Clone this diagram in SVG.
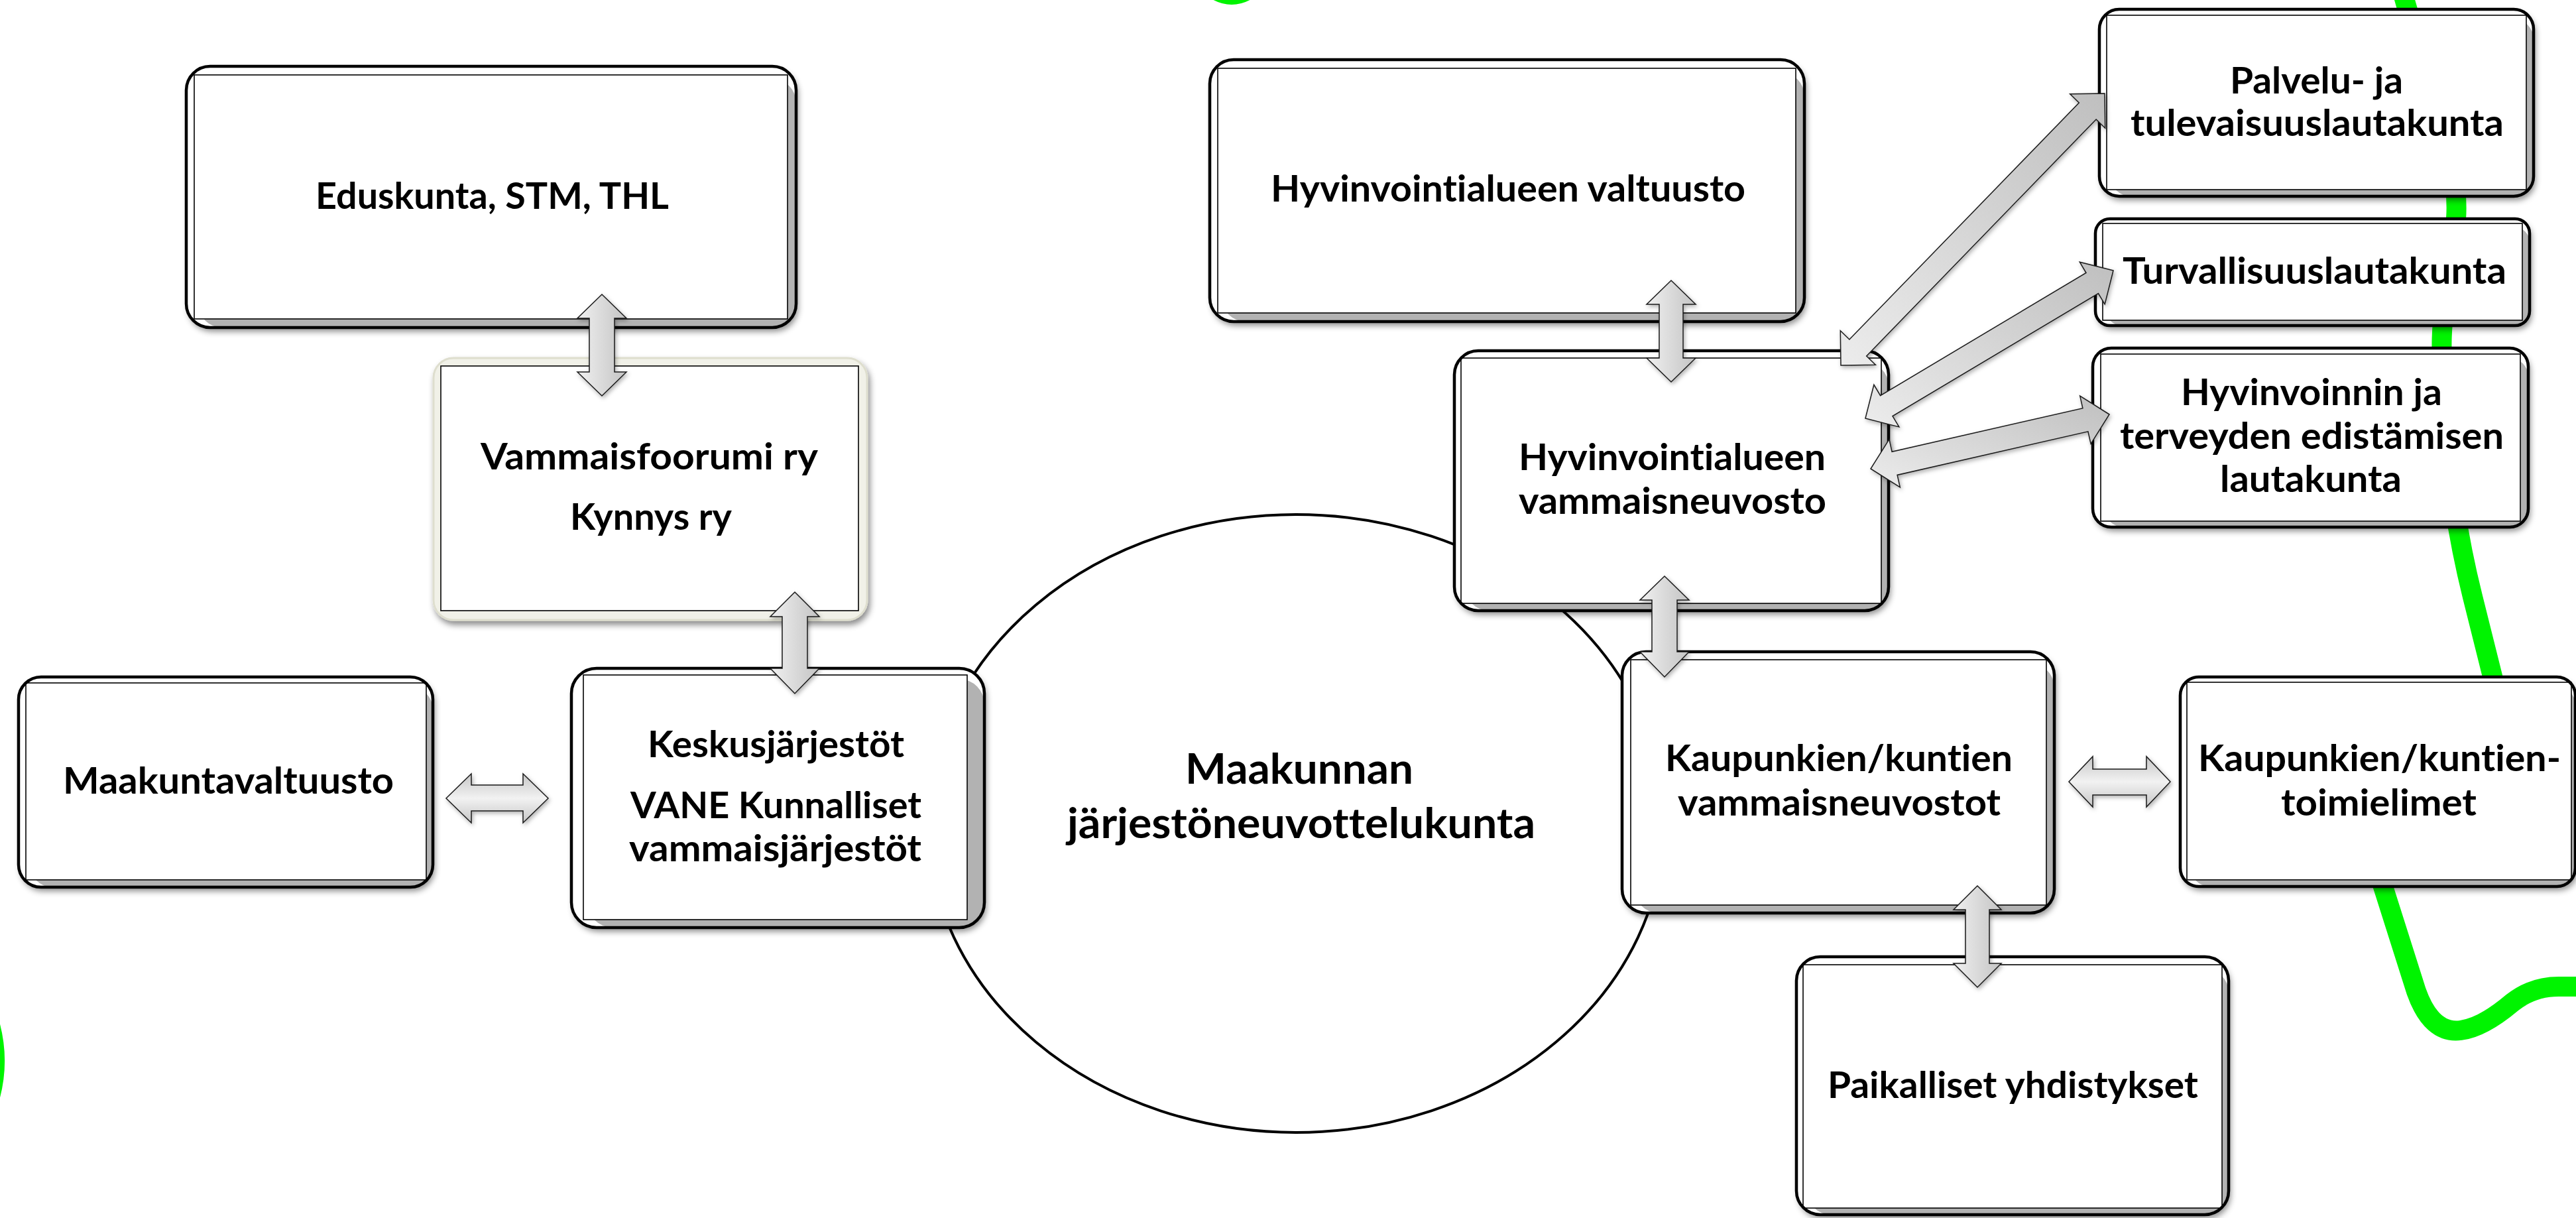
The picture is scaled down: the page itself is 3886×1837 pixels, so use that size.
<svg xmlns="http://www.w3.org/2000/svg" width="3886" height="1837" viewBox="0 0 3886 1837">
<defs>
<filter id="sh" x="-10%" y="-10%" width="125%" height="130%">
<feDropShadow dx="3" dy="6" stdDeviation="5" flood-color="#000" flood-opacity="0.45"/>
</filter>
<filter id="ash" x="-10%" y="-10%" width="125%" height="125%">
<feDropShadow dx="2" dy="3" stdDeviation="3" flood-color="#000" flood-opacity="0.3"/>
</filter>
<linearGradient id="gDiag" x1="0" y1="1" x2="1" y2="0">
<stop offset="0" stop-color="#ececec"/><stop offset="1" stop-color="#bfbfbf"/>
</linearGradient>
<linearGradient id="gVert" x1="0" y1="0" x2="1" y2="0">
<stop offset="0" stop-color="#f0f0f0"/><stop offset="1" stop-color="#c4c4c4"/>
</linearGradient>
<linearGradient id="gHor" x1="0" y1="0" x2="0" y2="1">
<stop offset="0" stop-color="#c6c6c6"/><stop offset="0.5" stop-color="#f2f2f2"/><stop offset="1" stop-color="#c6c6c6"/>
</linearGradient>
</defs>
<style>
.o{fill:#fff;stroke:none}
.bev{fill:#b2b2b2}
.in{fill:#fff;stroke:#000;stroke-width:1.6}
.ob{fill:none;stroke:#000;stroke-width:4.5}
.t{font-family:Lato,"Open Sans","Liberation Sans",sans-serif;font-weight:700;font-size:56px;fill:#000;font-variant-ligatures:none;font-feature-settings:"liga" 0,"clig" 0}
.tc{font-size:64px}
.ar{stroke:#1a1a1a;stroke-width:1.5;stroke-linejoin:miter}
.green{fill:none;stroke:#00f400;stroke-width:30;stroke-linecap:round;stroke-linejoin:round}
</style>
<rect width="3886" height="1837" fill="#fff"/>

<g id="decor">
<path class="green" d="M3622,-20 C3660,120 3712,240 3705,330 C3698,420 3680,470 3684,540 C3690,680 3700,780 3730,900 L3765,1040 L3580,1290 L3645,1495 Q3668,1560 3712,1554 Q3745,1550 3790,1512 Q3820,1488 3860,1488 L3910,1488"/>
<path class="green" style="stroke-width:24" d="M1820,-22 Q1858,12 1896,-22"/>
<path class="green" style="stroke-width:24" d="M-40,1480 Q30,1600 -40,1720"/>
</g>

<g id="n-maakunnan">
<ellipse cx="1955" cy="1242" rx="555" ry="466" fill="#fff" stroke="#000" stroke-width="4"/>
<text class="t tc" x="1788" y="1182" textLength="344" lengthAdjust="spacingAndGlyphs">Maakunnan</text>
<text class="t tc" x="1610" y="1264" textLength="706" lengthAdjust="spacingAndGlyphs">järjestöneuvottelukunta</text>
</g>

<g id="n-eduskunta">
<rect class="o" x="281" y="100" width="920" height="394" rx="36" filter="url(#sh)"/>
<rect class="bev" x="299" y="119" width="902" height="375" rx="36"/>
<rect class="in" x="293" y="113" width="895" height="368"/>
<rect class="ob" x="281" y="100" width="920" height="394" rx="36"/>
<text class="t" x="476" y="315" textLength="533" lengthAdjust="spacingAndGlyphs">Eduskunta, STM, THL</text>
</g>

<g id="n-vammaisfoorumi">
<rect x="654" y="540" width="654" height="395" rx="30" fill="#f1f1e8" stroke="#dedece" stroke-width="3" filter="url(#sh)"/>
<rect class="in" x="665" y="552" width="630" height="369"/>
<text class="t" x="725" y="708" textLength="509" lengthAdjust="spacingAndGlyphs">Vammaisfoorumi ry</text>
<text class="t" x="860" y="799" textLength="244" lengthAdjust="spacingAndGlyphs">Kynnys ry</text>
</g>

<g id="n-maakuntavaltuusto">
<rect class="o" x="28" y="1021" width="625" height="317" rx="34" filter="url(#sh)"/>
<rect class="bev" x="45" y="1036" width="608" height="302" rx="34"/>
<rect class="in" x="39" y="1030" width="604" height="297"/>
<rect class="ob" x="28" y="1021" width="625" height="317" rx="34"/>
<text class="t" x="95" y="1197" textLength="499" lengthAdjust="spacingAndGlyphs">Maakuntavaltuusto</text>
</g>

<g id="n-keskus">
<rect class="o" x="862" y="1008" width="623" height="391" rx="38" filter="url(#sh)"/>
<rect class="bev" x="886" y="1024" width="599" height="375" rx="38"/>
<rect class="in" x="880" y="1018" width="579" height="369"/>
<rect class="ob" x="862" y="1008" width="623" height="391" rx="38"/>
<text class="t" x="977" y="1142" textLength="387" lengthAdjust="spacingAndGlyphs">Keskusjärjestöt</text>
<text class="t" x="951" y="1234" textLength="439" lengthAdjust="spacingAndGlyphs">VANE Kunnalliset</text>
<text class="t" x="949" y="1299" textLength="441" lengthAdjust="spacingAndGlyphs">vammaisjärjestöt</text>
</g>

<g id="n-hyv-valtuusto">
<rect class="o" x="1825" y="90" width="897" height="395" rx="36" filter="url(#sh)"/>
<rect class="bev" x="1843" y="109" width="879" height="376" rx="36"/>
<rect class="in" x="1837" y="103" width="872" height="369"/>
<rect class="ob" x="1825" y="90" width="897" height="395" rx="36"/>
<text class="t" x="1917" y="304" textLength="716" lengthAdjust="spacingAndGlyphs">Hyvinvointialueen valtuusto</text>
</g>

<g id="n-hyv-vammaisneuvosto">
<rect class="o" x="2194" y="529" width="655" height="392" rx="36" filter="url(#sh)"/>
<rect class="bev" x="2210" y="546" width="639" height="375" rx="36"/>
<rect class="in" x="2204" y="540" width="634" height="370"/>
<rect class="ob" x="2194" y="529" width="655" height="392" rx="36"/>
<text class="t" x="2291" y="709" textLength="463" lengthAdjust="spacingAndGlyphs">Hyvinvointialueen</text>
<text class="t" x="2291" y="775" textLength="464" lengthAdjust="spacingAndGlyphs">vammaisneuvosto</text>
</g>

<g id="n-palvelu">
<rect class="o" x="3167" y="14" width="655" height="282" rx="30" filter="url(#sh)"/>
<rect class="bev" x="3184" y="29" width="638" height="267" rx="30"/>
<rect class="in" x="3178" y="23" width="633" height="263"/>
<rect class="ob" x="3167" y="14" width="655" height="282" rx="30"/>
<text class="t" x="3364" y="141" textLength="261" lengthAdjust="spacingAndGlyphs">Palvelu- ja</text>
<text class="t" x="3214" y="205" textLength="563" lengthAdjust="spacingAndGlyphs">tulevaisuuslautakunta</text>
</g>

<g id="n-turvallisuus">
<rect class="o" x="3161" y="330" width="655" height="161" rx="22" filter="url(#sh)"/>
<rect class="bev" x="3178" y="343" width="638" height="148" rx="22"/>
<rect class="in" x="3172" y="337" width="633" height="146"/>
<rect class="ob" x="3161" y="330" width="655" height="161" rx="22"/>
<text class="t" x="3202" y="428" textLength="579" lengthAdjust="spacingAndGlyphs">Turvallisuuslautakunta</text>
</g>

<g id="n-hyvinvoinnin">
<rect class="o" x="3157" y="525" width="657" height="270" rx="28" filter="url(#sh)"/>
<rect class="bev" x="3175" y="540" width="639" height="255" rx="28"/>
<rect class="in" x="3169" y="534" width="633" height="252"/>
<rect class="ob" x="3157" y="525" width="657" height="270" rx="28"/>
<text class="t" x="3290" y="611" textLength="394" lengthAdjust="spacingAndGlyphs">Hyvinvoinnin ja</text>
<text class="t" x="3198" y="677" textLength="579" lengthAdjust="spacingAndGlyphs">terveyden edistämisen</text>
<text class="t" x="3349" y="742" textLength="274" lengthAdjust="spacingAndGlyphs">lautakunta</text>
</g>

<g id="n-kaupunkien-vammaisneuvostot">
<rect class="o" x="2447" y="983" width="652" height="394" rx="36" filter="url(#sh)"/>
<rect class="bev" x="2466" y="1001" width="633" height="376" rx="36"/>
<rect class="in" x="2460" y="995" width="627" height="370"/>
<rect class="ob" x="2447" y="983" width="652" height="394" rx="36"/>
<text class="t" x="2512" y="1163" textLength="524" lengthAdjust="spacingAndGlyphs">Kaupunkien/kuntien</text>
<text class="t" x="2531" y="1230" textLength="487" lengthAdjust="spacingAndGlyphs">vammaisneuvostot</text>
</g>

<g id="n-toimielimet">
<rect class="o" x="3289" y="1021" width="596" height="316" rx="28" filter="url(#sh)"/>
<rect class="bev" x="3305" y="1035" width="580" height="302" rx="28"/>
<rect class="in" x="3299" y="1029" width="580" height="298"/>
<rect class="ob" x="3289" y="1021" width="596" height="316" rx="28"/>
<text class="t" x="3316" y="1163" textLength="547" lengthAdjust="spacingAndGlyphs">Kaupunkien/kuntien-</text>
<text class="t" x="3441" y="1230" textLength="295" lengthAdjust="spacingAndGlyphs">toimielimet</text>
</g>

<g id="n-paikalliset">
<rect class="o" x="2710" y="1443" width="652" height="389" rx="36" filter="url(#sh)"/>
<rect class="bev" x="2726" y="1461" width="636" height="371" rx="36"/>
<rect class="in" x="2720" y="1455" width="632" height="367"/>
<rect class="ob" x="2710" y="1443" width="652" height="389" rx="36"/>
<text class="t" x="2757" y="1656" textLength="559" lengthAdjust="spacingAndGlyphs">Paikalliset yhdistykset</text>
</g>

<g id="connectors" filter="url(#ash)">
<polygon class="ar" fill="url(#gVert)" points="908,444 871,480 889,480 889,561 871,561 908,597 945,561 927,561 927,480 945,480"/>
<polygon class="ar" fill="url(#gVert)" points="1199,893 1162,930 1180,930 1180,1008 1162,1008 1199,1046 1236,1008 1218,1008 1218,930 1236,930"/>
<polygon class="ar" fill="url(#gHor)" points="673,1204 711,1167 711,1184 789,1184 789,1167 827,1204 789,1241 789,1223 711,1223 711,1241"/>
<polygon class="ar" fill="url(#gVert)" points="2521,423 2484,459 2503,459 2503,540 2484,540 2521,576 2558,540 2539,540 2539,459 2558,459"/>
<polygon class="ar" fill="url(#gVert)" points="2511,869 2474,905 2492,905 2492,983 2474,983 2511,1021 2548,983 2530,983 2530,905 2548,905"/>
<polygon class="ar" fill="url(#gHor)" points="3121,1179 3157,1141 3157,1160 3238,1160 3238,1141 3274,1179 3238,1217 3238,1199 3157,1199 3157,1217"/>
<polygon class="ar" fill="url(#gVert)" points="2983,1336 2947,1372 2965,1372 2965,1453 2947,1453 2983,1489 3019,1453 3001,1453 3001,1372 3019,1372"/>
<polygon class="ar" fill="url(#gDiag)" points="3175,141 3122.7,141.7 3136.3,155 2789.9,512 2776.3,498.7 2777,551 2829.3,550.3 2815.7,537 3162.1,180 3175.7,193.3"/>
<polygon class="ar" fill="url(#gDiag)" points="3188,408 3137.3,395.2 3147,411.5 2836.6,596.6 2826.9,580.3 2814,631 2864.8,643.9 2855,627.6 3165.4,442.5 3175.2,458.8"/>
<polygon class="ar" fill="url(#gDiag)" points="3182,625 3137.7,597.1 3141.9,615.7 2854.1,681.3 2849.9,662.7 2822,707 2866.3,734.9 2862.1,716.4 3149.9,650.8 3154.1,669.3"/>
</g>
</svg>
